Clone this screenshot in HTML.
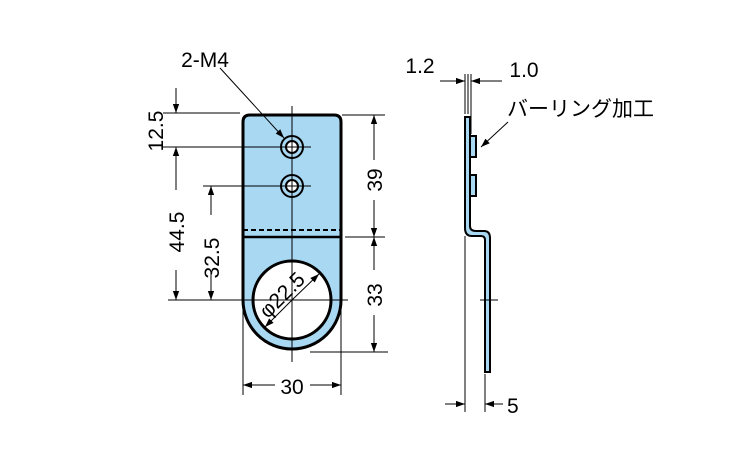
<!DOCTYPE html>
<html><head><meta charset="utf-8"><style>html,body{margin:0;padding:0;background:#fff}svg{display:block}</style></head><body>
<svg width="750" height="450" viewBox="0 0 750 450" xmlns="http://www.w3.org/2000/svg" font-family="'Liberation Sans','Noto Sans CJK JP',sans-serif">
<defs>
<marker id="a" viewBox="0 0 10 10" refX="10" refY="5" markerWidth="9" markerHeight="9" markerUnits="userSpaceOnUse" orient="auto"><path d="M0,1.5 L10,5 L0,8.5z" fill="#000"/></marker>
</defs>
<g stroke="#000" fill="none">
<path d="M243,300 L243,122 Q243,115 250,115 L334,115 Q341,115 341,122 L341,300 A49,49 0 0 1 243,300 Z" fill="#a9d8f2" stroke-width="3"/>
<circle cx="292" cy="300" r="39" fill="#fff" stroke-width="3"/>
<circle cx="292" cy="147" r="11" fill="#a9d8f2" stroke-width="2"/>
<circle cx="292" cy="147" r="6" fill="#fff" stroke-width="2"/>
<circle cx="292" cy="186" r="11" fill="#a9d8f2" stroke-width="2"/>
<circle cx="292" cy="186" r="6" fill="#fff" stroke-width="2"/>
<line x1="243" y1="230" x2="341" y2="230" stroke-width="2" stroke-dasharray="5,3"/>
<line x1="243" y1="237" x2="341" y2="237" stroke-width="2.5"/>
<g stroke-width="1">
<line x1="292" y1="106" x2="292" y2="362"/>
<line x1="163" y1="113" x2="240" y2="113"/>
<line x1="163" y1="147" x2="311" y2="147"/>
<line x1="203" y1="186" x2="311" y2="186"/>
<line x1="168" y1="300" x2="348" y2="300"/>
<line x1="310" y1="352" x2="388" y2="352"/>
<line x1="342" y1="115" x2="385" y2="115"/>
<line x1="345" y1="237" x2="385" y2="237"/>
<line x1="243" y1="308" x2="243" y2="395"/>
<line x1="341" y1="308" x2="341" y2="395"/>
<line x1="176" y1="88" x2="176" y2="113" marker-end="url(#a)"/>
<line x1="176" y1="190" x2="176" y2="147" marker-end="url(#a)"/>
<line x1="176" y1="270" x2="176" y2="300" marker-end="url(#a)"/>
<line x1="211" y1="215" x2="211" y2="186" marker-end="url(#a)"/>
<line x1="211" y1="272" x2="211" y2="300" marker-end="url(#a)"/>
<line x1="374" y1="160" x2="374" y2="115" marker-end="url(#a)"/>
<line x1="374" y1="200" x2="374" y2="237" marker-end="url(#a)"/>
<line x1="374" y1="270" x2="374" y2="237" marker-end="url(#a)"/>
<line x1="374" y1="315" x2="374" y2="352" marker-end="url(#a)"/>
<line x1="275" y1="385" x2="243" y2="385" marker-end="url(#a)"/>
<line x1="310" y1="385" x2="341" y2="385" marker-end="url(#a)"/>
<line x1="220" y1="68" x2="284" y2="138" marker-end="url(#a)"/>
<line x1="292" y1="300" x2="319" y2="274" marker-end="url(#a)"/>
<line x1="292" y1="300" x2="265" y2="327" marker-end="url(#a)"/>
</g>
<path d="M465,117 L470,117 L470,226 Q470,231 476,231 L484,231 Q490,231 490,238 L490,372 L485,372 L485,240 Q485,236 481,236 L472,236 Q465,236 465,228 Z" fill="#a9d8f2" stroke-width="2"/>
<rect x="470" y="136" width="6" height="21" fill="#a9d8f2" stroke-width="2"/>
<rect x="470" y="175" width="6" height="21" fill="#a9d8f2" stroke-width="2"/>
<g stroke-width="1">
<line x1="465" y1="74" x2="465" y2="114"/>
<line x1="468" y1="74" x2="468" y2="114"/>
<line x1="471" y1="74" x2="471" y2="134"/>
<line x1="440" y1="81" x2="465" y2="81" marker-end="url(#a)"/>
<line x1="502" y1="81" x2="471" y2="81" marker-end="url(#a)"/>
<line x1="508" y1="122" x2="481" y2="147" marker-end="url(#a)"/>
<line x1="465" y1="236" x2="465" y2="412"/>
<line x1="485" y1="374" x2="485" y2="412"/>
<line x1="445" y1="404" x2="465" y2="404" marker-end="url(#a)"/>
<line x1="503" y1="404" x2="485" y2="404" marker-end="url(#a)"/>
<line x1="480" y1="300" x2="498" y2="300"/>
</g>
</g>
<g font-size="21" fill="#000">
<text x="205" y="67" text-anchor="middle">2-M4</text>
<text x="292" y="394" text-anchor="middle">30</text>
<text transform="translate(163,131) rotate(-90)" text-anchor="middle">12.5</text>
<text transform="translate(184,232) rotate(-90)" text-anchor="middle">44.5</text>
<text transform="translate(219,258) rotate(-90)" text-anchor="middle">32.5</text>
<text transform="translate(382,180) rotate(-90)" text-anchor="middle">39</text>
<text transform="translate(382,295) rotate(-90)" text-anchor="middle">33</text>
<text transform="translate(287,300) rotate(-45)" text-anchor="middle">φ22.5</text>
<text x="420" y="73" text-anchor="middle">1.2</text>
<text x="524" y="77" text-anchor="middle">1.0</text>
<text x="507" y="116">バーリング加工</text>
<text x="507" y="413">5</text>
</g>
</svg>
</body></html>
